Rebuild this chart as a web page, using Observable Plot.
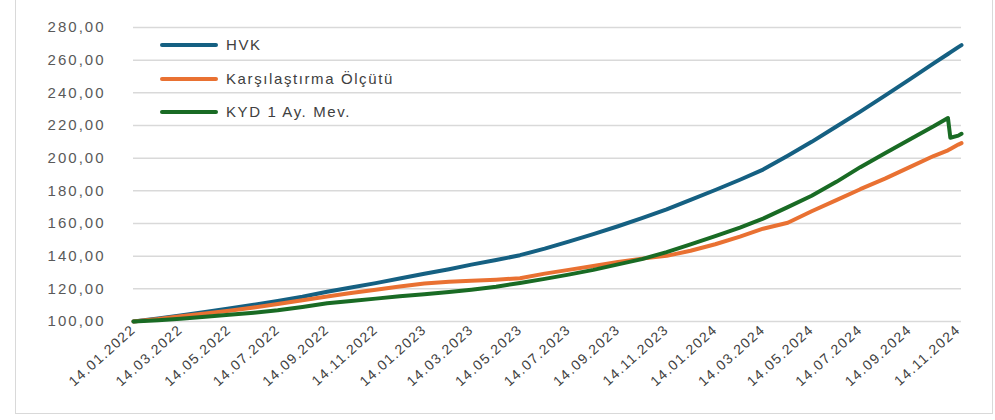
<!DOCTYPE html>
<html>
<head>
<meta charset="utf-8">
<script src="https://cdn.jsdelivr.net/npm/d3@7"></script>
<script src="https://cdn.jsdelivr.net/npm/@observablehq/plot@0.6"></script>
<style>
  body { margin: 0; background: #fff; }
  #wrap { position: relative; width: 995px; height: 420px; overflow: hidden; font-family: "Liberation Sans", Arial, sans-serif; }
  #frame { position: absolute; left: 15px; top: -2px; width: 978px; height: 416px; border: 1px solid #d9d9d9; box-sizing: border-box; }
  #chart { position: absolute; left: 0; top: 0; }
  #legend { position: absolute; left: 160px; top: 0; }
  .item { position: absolute; left: 0; white-space: nowrap; }
  .sw { position: absolute; left: 0; width: 58px; height: 4px; border-radius: 2px; }
  .lab { position: absolute; left: 66px; font-size: 15px; letter-spacing: 1.6px; color: #404040; line-height: 16px; top: -8px; }
  g[aria-label="y-axis tick label"] text { letter-spacing: 2px; }
  g[aria-label="x-axis tick label"] text { letter-spacing: 1.4px; }
</style>
</head>
<body>
<div id="wrap">
  <div id="frame"></div>
  <div id="chart"></div>
  <div id="legend"></div>
</div>
<script>
// ---- data ----
const dates = [
  "2022-01-14","2022-02-14","2022-03-14","2022-04-14","2022-05-14","2022-06-14",
  "2022-07-14","2022-08-14","2022-09-14","2022-10-14","2022-11-14","2022-12-14",
  "2023-01-14","2023-02-14","2023-03-14","2023-04-14","2023-05-14","2023-06-14",
  "2023-07-14","2023-08-14","2023-09-14","2023-10-14","2023-11-14","2023-12-14",
  "2024-01-14","2024-02-14","2024-03-14","2024-04-14","2024-05-14","2024-06-14",
  "2024-07-14","2024-08-14","2024-09-14","2024-10-14","2024-11-01","2024-11-04",
  "2024-11-14","2024-11-18"
];
const hvk = [
  100.0, 101.8, 103.7, 105.8, 108.0, 110.2,
  112.6, 115.2, 118.2, 120.8, 123.5, 126.3,
  129.2, 132.0, 134.8, 137.6, 140.6, 144.6,
  148.9, 153.5, 158.3, 163.3, 168.6, 174.4,
  180.5, 186.8, 193.0, 201.5, 210.0, 219.4,
  228.5, 238.3, 248.2, 258.0, 263.8, 264.8,
  268.0, 269.2
];
const benchmark = [
  100.0, 101.5, 103.2, 104.9, 106.6, 108.6,
  110.7, 113.0, 115.3, 117.5, 119.4, 121.4,
  123.2, 124.3, 125.0, 125.6, 126.5, 129.3,
  131.6, 134.0, 136.5, 138.5, 140.2, 143.3,
  147.3, 152.0, 156.8, 160.5, 167.5, 174.3,
  181.0, 187.5, 194.5, 201.3, 204.8, 205.6,
  208.3, 209.2
];
const kyd = [
  100.0, 100.8, 101.7, 102.9, 104.1, 105.4,
  106.9, 108.9, 111.2, 112.6, 114.0, 115.4,
  116.7, 118.1, 119.5, 121.3, 123.6, 126.1,
  128.7, 131.6, 135.0, 138.2, 142.5, 147.2,
  152.3, 157.5, 163.0, 170.0, 177.0, 185.5,
  194.5, 203.0, 211.5, 219.5, 224.6, 212.5,
  213.8, 214.9
];
const seriesNames = ["HVK", "Karşılaştırma Ölçütü", "KYD 1 Ay. Mev."];
const seriesColors = ["#156082", "#E97132", "#196B24"];
const xTickLabels = [
  "14.01.2022","14.03.2022","14.05.2022","14.07.2022","14.09.2022","14.11.2022",
  "14.01.2023","14.03.2023","14.05.2023","14.07.2023","14.09.2023","14.11.2023",
  "14.01.2024","14.03.2024","14.05.2024","14.07.2024","14.09.2024","14.11.2024"
];
const yTicks = [100, 120, 140, 160, 180, 200, 220, 240, 260, 280];

// ---- build tables ----
const parseISO = d3.utcParse("%Y-%m-%d");
const parseTick = d3.utcParse("%d.%m.%Y");
const allValues = [hvk, benchmark, kyd];
const rows = [];
allValues.forEach((vals, si) => {
  vals.forEach((v, i) => rows.push({date: parseISO(dates[i]), value: v, series: seriesNames[si]}));
});
const xTicks = xTickLabels.map(parseTick);
const fmtY = d => d.toFixed(2).replace(".", ",");

const chart = Plot.plot({
  width: 995,
  height: 415,
  marginLeft: 133,
  marginRight: 34,
  marginTop: 27,
  marginBottom: 94,
  style: {fontFamily: "'Liberation Sans', Arial, sans-serif", background: "transparent", overflow: "visible"},
  x: {type: "utc", domain: [parseISO(dates[0]), parseISO(dates[dates.length - 1])]},
  y: {domain: [100, 280]},
  color: {domain: seriesNames, range: seriesColors},
  marks: [
    Plot.gridY(yTicks, {stroke: "#d9d9d9", strokeOpacity: 1, strokeWidth: 1.5}),
    Plot.axisY(yTicks, {tickSize: 0, tickPadding: 28, tickFormat: fmtY, fontSize: 15, fill: "#595959", label: null}),
    Plot.axisX(xTicks, {tickSize: 0, tickPadding: 6, tickRotate: -42, tickFormat: d3.utcFormat("%d.%m.%Y"), fontSize: 14, fill: "#404040", label: null}),
    Plot.line(rows, {x: "date", y: "value", z: "series", stroke: "series", strokeWidth: 4, strokeLinecap: "round", strokeLinejoin: "round"})
  ]
});
document.getElementById("chart").appendChild(chart);

// ---- legend ----
const legend = document.getElementById("legend");
const legendY = [45, 79, 112];
seriesNames.forEach((name, i) => {
  const item = document.createElement("div");
  item.className = "item";
  item.style.top = legendY[i] + "px";
  item.innerHTML = `<div class="sw" style="background:${seriesColors[i]};top:-2px"></div><div class="lab">${name}</div>`;
  legend.appendChild(item);
});
</script>
</body>
</html>
